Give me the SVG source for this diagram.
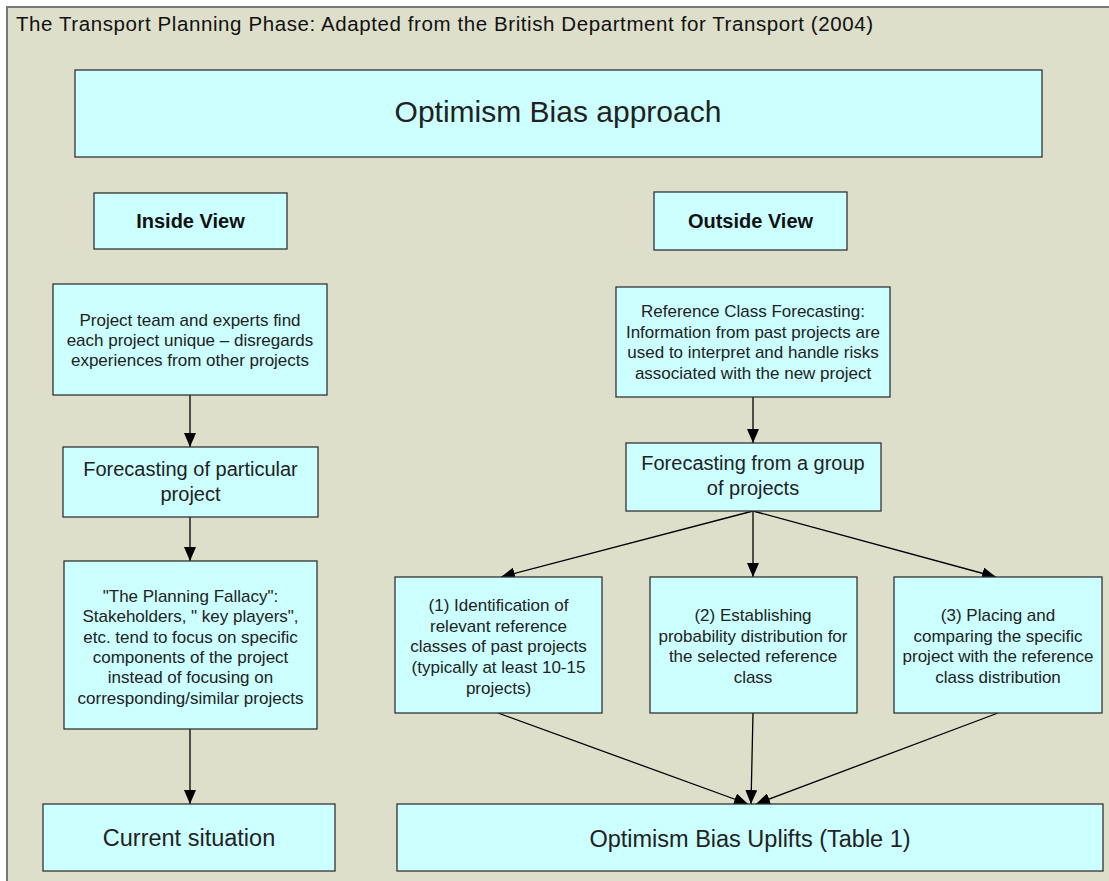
<svg xmlns="http://www.w3.org/2000/svg" width="1109" height="881" viewBox="0 0 1109 881">
  <defs>
    <style>
      .box { fill: #ccffff; stroke: #333333; stroke-width: 1.3; }
      .t { font-family: "Liberation Sans", Arial, sans-serif; fill: #222222; text-anchor: middle; }
      .s17 { font-size: 17px; }
      .s20 { font-size: 20px; }
      .s23 { font-size: 23.5px; }
      .b { font-weight: bold; font-size: 20px; fill: #111111; }
      .conn line { stroke: #000000; stroke-width: 1.3; marker-end: url(#arr); }
    </style>
    <marker id="arr" markerUnits="userSpaceOnUse" markerWidth="14" markerHeight="12" refX="14" refY="6" orient="auto">
      <path d="M0,0 L14,6 L0,12 Z" fill="#000000"/>
    </marker>
  </defs>
  <rect x="0" y="0" width="1109" height="881" fill="#ffffff"/>
  <rect x="7" y="7" width="1110" height="880" fill="#dedfcb" stroke="#777777" stroke-width="2"/>
  <text x="16" y="31" font-family="'Liberation Sans', Arial, sans-serif" font-size="20.5" fill="#111111" textLength="857" lengthAdjust="spacing">The Transport Planning Phase: Adapted from the British Department for Transport (2004)</text>

  <g class="conn">
    <line x1="190" y1="395" x2="190" y2="447"/>
    <line x1="190" y1="517" x2="190" y2="561"/>
    <line x1="190" y1="729" x2="190" y2="804"/>
    <line x1="753" y1="397" x2="753" y2="443"/>
    <line x1="753" y1="511" x2="501" y2="577"/>
    <line x1="753" y1="511" x2="753" y2="577"/>
    <line x1="753" y1="511" x2="996" y2="577"/>
    <line x1="498" y1="713" x2="748" y2="804"/>
    <line x1="753" y1="713" x2="751" y2="804"/>
    <line x1="998" y1="713" x2="756" y2="804"/>
  </g>

  <g id="optimism-bias-approach">
    <rect class="box" x="75" y="70" width="967" height="87"/>
    <text class="t" x="558" y="122" font-size="30">Optimism Bias approach</text>
  </g>
  <g id="inside-view">
    <rect class="box" x="94" y="193" width="193" height="56"/>
    <text class="t b" x="190.5" y="228">Inside View</text>
  </g>
  <g id="outside-view">
    <rect class="box" x="654" y="192" width="193" height="58"/>
    <text class="t b" x="750.5" y="228">Outside View</text>
  </g>
  <g id="project-team">
    <rect class="box" x="53" y="284" width="274" height="111"/>
    <text class="t s17" x="190" y="326">Project team and experts find</text>
    <text class="t s17" x="190" y="346">each project unique – disregards</text>
    <text class="t s17" x="190" y="366">experiences from other projects</text>
  </g>
  <g id="forecasting-particular">
    <rect class="box" x="63" y="447" width="255" height="70"/>
    <text class="t s20" x="190.5" y="476">Forecasting of particular</text>
    <text class="t s20" x="190.5" y="501">project</text>
  </g>
  <g id="planning-fallacy">
    <rect class="box" x="64" y="561" width="253" height="168"/>
    <text class="t s17" x="190.5" y="602">"The Planning Fallacy":</text>
    <text class="t s17" x="190.5" y="622">Stakeholders, " key players",</text>
    <text class="t s17" x="190.5" y="643">etc. tend to focus on specific</text>
    <text class="t s17" x="190.5" y="663">components of the project</text>
    <text class="t s17" x="190.5" y="683">instead of focusing on</text>
    <text class="t s17" x="190.5" y="704">corresponding/similar projects</text>
  </g>
  <g id="current-situation">
    <rect class="box" x="43" y="804" width="292" height="67"/>
    <text class="t s23" x="189" y="846">Current situation</text>
  </g>
  <g id="reference-class">
    <rect class="box" x="616" y="287" width="274" height="110"/>
    <text class="t s17" x="753" y="317">Reference Class Forecasting:</text>
    <text class="t s17" x="753" y="338">Information from past projects are</text>
    <text class="t s17" x="753" y="358">used to interpret and handle risks</text>
    <text class="t s17" x="753" y="379">associated with the new project</text>
  </g>
  <g id="forecasting-group">
    <rect class="box" x="626" y="443" width="255" height="68"/>
    <text class="t s20" x="753" y="470">Forecasting from a group</text>
    <text class="t s20" x="753" y="495">of projects</text>
  </g>
  <g id="step1">
    <rect class="box" x="395" y="577" width="207" height="136"/>
    <text class="t s17" x="498.5" y="611">(1) Identification of</text>
    <text class="t s17" x="498.5" y="632">relevant reference</text>
    <text class="t s17" x="498.5" y="652">classes of past projects</text>
    <text class="t s17" x="498.5" y="673">(typically at least 10-15</text>
    <text class="t s17" x="498.5" y="694">projects)</text>
  </g>
  <g id="step2">
    <rect class="box" x="650" y="577" width="207" height="136"/>
    <text class="t s17" x="753" y="621">(2) Establishing</text>
    <text class="t s17" x="753" y="642">probability distribution for</text>
    <text class="t s17" x="753" y="662">the selected reference</text>
    <text class="t s17" x="753" y="683">class</text>
  </g>
  <g id="step3">
    <rect class="box" x="894" y="577" width="208" height="136"/>
    <text class="t s17" x="998" y="621">(3) Placing and</text>
    <text class="t s17" x="998" y="642">comparing the specific</text>
    <text class="t s17" x="998" y="662">project with the reference</text>
    <text class="t s17" x="998" y="683">class distribution</text>
  </g>
  <g id="optimism-bias-uplifts">
    <rect class="box" x="397" y="804" width="706" height="67"/>
    <text class="t s23" x="750" y="847">Optimism Bias Uplifts (Table 1)</text>
  </g>
</svg>
